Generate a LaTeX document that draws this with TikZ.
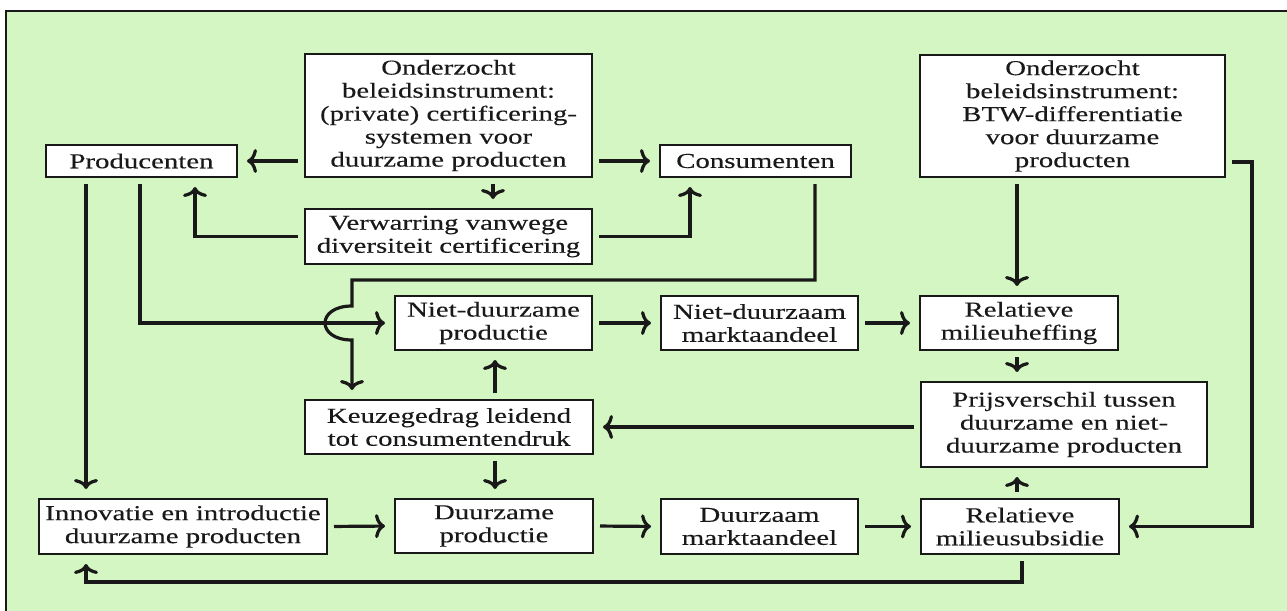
\documentclass[tikz,border=0pt]{standalone}
\usepackage{fontspec}
\setmainfont{Liberation Serif}[FakeStretch=1.36,FakeBold=0.2]
\usetikzlibrary{arrows.meta,calc}
\definecolor{bg}{RGB}{212,246,194}
\definecolor{ink}{RGB}{25,25,25}
\begin{document}
\begin{tikzpicture}[x=0.5pt,y=-0.5pt,
 box/.style={draw=ink,line width=1pt,fill=white,inner sep=0pt,align=center,text=ink,
   font=\fontsize{10.6}{11.5}\selectfont},
 arr/.style={draw=ink,line width=1.6pt,-{To[length=5pt,width=12pt]},
   shorten <=3pt,shorten >=4.5pt}]
\useasboundingbox (0,0) rectangle (1287,611);
\fill[bg] (6,11) rectangle (1287,611);
\draw[line width=1pt,ink] (6,611) -- (6,11) -- (1287,11);

\node[box,minimum width=95.5pt,minimum height=16pt] (prod) at (141.5,161) {Producenten};
\node[box,minimum width=143.5pt,minimum height=61.5pt] (cert) at (448.5,115.5)
  {Onderzocht\\beleidsinstrument:\\(private) certificering-\\systemen voor\\duurzame producten};
\node[box,minimum width=95.5pt,minimum height=16pt] (cons) at (755.5,161) {Consumenten};
\node[box,minimum width=152.5pt,minimum height=61pt] (btw) at (1072.5,116)
  {Onderzocht\\beleidsinstrument:\\BTW-differentiatie\\voor duurzame\\producten};
\node[box,minimum width=143.5pt,minimum height=27.5pt] (verw) at (448.5,236.5)
  {Verwarring vanwege\\diversiteit certificering};
\node[box,minimum width=98.5pt,minimum height=27pt] (ndp) at (493.5,323)
  {Niet-duurzame\\productie};
\node[box,minimum width=98.5pt,minimum height=27pt] (ndm) at (759.5,323)
  {Niet-duurzaam\\marktaandeel};
\node[box,minimum width=99pt,minimum height=27pt] (heff) at (1019,323)
  {Relatieve\\milieuheffing};
\node[box,minimum width=144pt,minimum height=27pt] (keuze) at (449,427)
  {Keuzegedrag leidend\\tot consumentendruk};
\node[box,minimum width=143pt,minimum height=42.5pt] (prijs) at (1064,424.5)
  {Prijsverschil tussen\\duurzame en niet-\\duurzame producten};
\node[box,minimum width=99pt,minimum height=27.5pt] (subs) at (1020,526.5)
  {Relatieve\\milieusubsidie};
\node[box,minimum width=144pt,minimum height=27.5pt] (innov) at (183,526.5)
  {Innovatie en introductie\\duurzame producten};
\node[box,minimum width=99pt,minimum height=27pt] (dp) at (494,526)
  {Duurzame\\productie};
\node[box,minimum width=98.5pt,minimum height=27.5pt] (dm) at (759.5,526.5)
  {Duurzaam\\marktaandeel};

\coordinate (jA) at (352,280);
\coordinate (jB) at (352,306);
\coordinate (jC) at (352,340);
\coordinate (r1) at (1252,162);
\coordinate (b1) at (86,582);

\draw[arr] (cert.west |- prod.east) -- (prod.east);
\draw[arr] (cert.east |- cons.west) -- (cons.west);
\draw[arr] ([xshift=22.25pt]cert.south) -- ([xshift=22.25pt]cert.south |- verw.north);
\draw[arr] (verw.west) -| ([xshift=26.75pt]prod.south);
\draw[arr] (verw.east) -| ([xshift=-32.75pt]cons.south);
\draw[arr] ([xshift=-27.75pt]prod.south) -- ([xshift=-27.75pt]prod.south |- innov.north);
\draw[arr] ([xshift=-0.75pt]prod.south) |- (ndp.west);
\draw[arr] ([xshift=29.75pt]cons.south) |- (jA) -- (jB)
  .. controls +(-36,0) and +(-36,0) .. (jC) -- (jC |- keuze.north);
\draw[arr] (ndp.east) -- (ndm.west);
\draw[arr] (ndm.east) -- (heff.west);
\draw[arr] ([xshift=-27.75pt]btw.south) -- ([xshift=-27.75pt]btw.south |- heff.north);
\draw[arr] (btw.east |- r1) -- (r1) |- (subs.east);
\draw[arr] ([xshift=-1pt]heff.south) -- ([xshift=-1pt]heff.south |- prijs.north);
\draw[arr] (prijs.west |- keuze.east) -- (keuze.east);
\draw[arr] ([xshift=23pt]keuze.north) -- ([xshift=23pt]keuze.north |- ndp.south);
\draw[arr] ([xshift=23pt]keuze.south) -- ([xshift=23pt]keuze.south |- dp.north);
\draw[arr] (innov.east) -- (dp.west);
\draw[arr] (dp.east) -- (dm.west);
\draw[arr] (dm.east) -- (subs.west);
\draw[arr] ([xshift=-1.5pt]subs.north) -- ([xshift=-1.5pt]subs.north |- prijs.south);
\draw[arr] ([xshift=1pt]subs.south) |- (b1) -- (b1 |- innov.south);
\end{tikzpicture}
\end{document}
